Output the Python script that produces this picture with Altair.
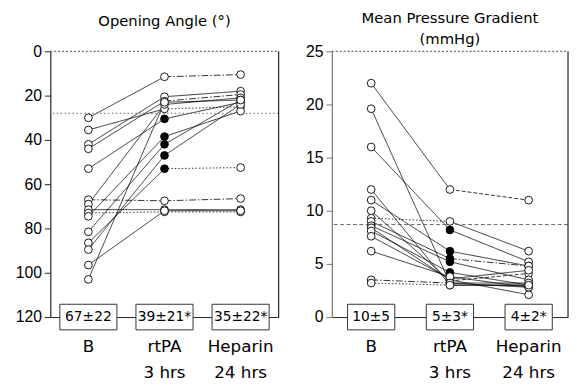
import altair as alt
import pandas as pd

# ---------------- data ----------------
stage_names = ["B", "rtPA\n3 hrs", "Heparin\n24 hrs"]

# Opening angle (degrees), one entry per patient
angle_b = [30, 35.5, 42, 44, 53, 67, 69, 71.5, 73, 74.5, 81.5, 86.5, 89.5, 96.5, 103]
angle_rtpa = [11.5, 26, 20.5, 22.5, 30.5, 67.5, 24, 71.5, 72.5, 38.5, 42, 53, 47, 72, 23]
angle_hep = [10.5, 25, 18, 19.5, 23, 66.5, 21, 71.5, 72.5, 27, 22, 52.5, 24, 72, 22]
angle_filled = [0, 0, 0, 0, 1, 0, 0, 0, 0, 1, 1, 1, 1, 0, 0]
angle_style1 = ["solid", "solid", "solid", "solid", "solid", "dashdot", "solid", "solid",
                "dotted", "solid", "solid", "solid", "solid", "solid", "solid"]
angle_style2 = ["dashdot", "dotted", "solid", "dashdot", "solid", "dashdot", "solid", "solid",
                "dotted", "solid", "solid", "dotted", "solid", "solid", "solid"]
angle_summary = ["67±22", "39±21*", "35±22*"]
angle_normal = 28
angle_ticks = [0, 20, 40, 60, 80, 100, 120]

# Mean pressure gradient (mmHg)
grad_b = [22, 19.6, 16, 12, 11, 10, 9.3, 9.0, 8.6, 8.4, 8.1, 7.6, 6.2, 3.5, 3.2]
grad_rtpa = [12, 3.2, 8.2, 3.0, 6.2, 3.4, 9.0, 5.5, 5.2, 3.5, 4.2, 3.6, 3.8, 3.2, 3.0]
grad_hep = [11, 2.8, 5.2, 3.0, 4.8, 4.1, 6.2, 4.8, 3.5, 2.1, 3.0, 4.4, 2.8, 3.2, 3.0]
grad_filled = [0, 0, 1, 0, 1, 0, 0, 1, 1, 0, 1, 0, 0, 0, 0]
grad_style1 = ["solid", "solid", "solid", "solid", "solid", "solid", "dotted", "solid",
               "solid", "solid", "solid", "solid", "solid", "dashdot", "dotted"]
grad_style2 = ["dashed", "solid", "solid", "solid", "solid", "dashed", "solid", "dashdot",
               "solid", "solid", "solid", "solid", "solid", "solid", "solid"]
grad_summary = ["10±5", "5±3*", "4±2*"]
grad_normal = 8.7
grad_ticks = [0, 5, 10, 15, 20, 25]

FONT = "DejaVu Sans"
TICK_FONT = "Liberation Sans"
PH = 270


def panel(b, r, h, filled, s1, s2, summary, normal, normal_dash, domain, ticks,
          reverse, width, titles, title_y, box_w, axis_color):
    line_rows, pt_rows = [], []
    for i in range(len(b)):
        line_rows += [
            dict(seg=f"{i}a", stage=0, val=b[i], style=s1[i]),
            dict(seg=f"{i}a", stage=1, val=r[i], style=s1[i]),
            dict(seg=f"{i}b", stage=1, val=r[i], style=s2[i]),
            dict(seg=f"{i}b", stage=2, val=h[i], style=s2[i]),
        ]
        pt_rows += [
            dict(stage=0, val=b[i], filled=0),
            dict(stage=1, val=r[i], filled=filled[i]),
            dict(stage=2, val=h[i], filled=0),
        ]
    lines_df = pd.DataFrame(line_rows)
    pts_df = pd.DataFrame(pt_rows)
    bottom = domain[1] if reverse else domain[0]
    box_df = pd.DataFrame(dict(stage=[0, 1, 2], val=[bottom] * 3, text=summary,
                               label=stage_names))

    xscale = alt.Scale(domain=[-0.5, 2.5])
    yscale = alt.Scale(domain=domain, reverse=reverse, nice=False, zero=False)
    x_axis = alt.Axis(title=None, labels=False, ticks=False, grid=False,
                      domainColor="#222", domainWidth=1)
    y_axis = alt.Axis(values=ticks, title=None, grid=False, tickSize=6,
                      labelFontSize=16, labelFont=TICK_FONT, labelColor="black",
                      labelPadding=3, domainColor=axis_color, tickColor=axis_color,
                      domainWidth=1.2)
    x_n = alt.X("stage:Q", scale=xscale, axis=x_axis)
    y_n = alt.Y("val:Q", scale=yscale, axis=y_axis)

    lines = alt.Chart(lines_df).mark_line(color="black", strokeWidth=0.8).encode(
        x=x_n, y=y_n, detail="seg:N",
        strokeDash=alt.StrokeDash("style:N", legend=None, scale=alt.Scale(
            domain=["solid", "dotted", "dashdot", "dashed"],
            range=[[1, 0], [1.5, 2], [7, 2, 1.5, 2], [4, 2]])))
    pts = alt.Chart(pts_df).mark_point(shape="circle", filled=True, size=62,
                                       stroke="black", strokeWidth=0.9, opacity=1).encode(
        x=x_n, y=y_n,
        fill=alt.Fill("filled:N", legend=None,
                      scale=alt.Scale(domain=[0, 1], range=["white", "black"])))
    normal_rule = alt.Chart(pd.DataFrame(dict(val=[normal]))).mark_rule(
        color="#555", strokeWidth=0.9, strokeDash=normal_dash).encode(y=y_n)
    top_rule = alt.Chart(pd.DataFrame(dict(a=[0]))).mark_rule(
        color="#444", strokeWidth=1, strokeDash=[2, 2]).encode(
        x=alt.value(0), x2=alt.value(width), y=alt.value(0))
    right_rule = alt.Chart(pd.DataFrame(dict(a=[0]))).mark_rule(
        color="#222", strokeWidth=1.2).encode(
        x=alt.value(width), y=alt.value(0), y2=alt.value(PH))
    boxes = alt.Chart(box_df).mark_rect(
        fill="white", stroke="#333", strokeWidth=1,
        xOffset=-box_w / 2, x2Offset=box_w / 2, yOffset=-13, y2Offset=13).encode(
        x=x_n, x2="stage:Q", y=y_n, y2="val:Q")
    box_text = alt.Chart(box_df).mark_text(font=FONT, fontSize=14, color="black").encode(
        x=x_n, y=y_n, text="text:N")
    cat_text = alt.Chart(box_df).mark_text(
        font=FONT, fontSize=17, color="black", baseline="top", dy=23,
        lineBreak="\n", lineHeight=26).encode(x=x_n, y=y_n, text="label:N")
    title_df = pd.DataFrame(dict(t=[titles], d=["Mean"]))
    title = alt.Chart(title_df).mark_text(
        font=FONT, fontSize=15, color="black", baseline="top", lineBreak="\n",
        lineHeight=22).encode(x=alt.value(width / 2), y=alt.value(title_y), text="t:N")
    dummy = alt.Chart(title_df).mark_text(
        font=FONT, fontSize=15, color="black", baseline="top", opacity=0).encode(
        x=alt.value(width / 2), y=alt.value(-41), text="d:N")

    return alt.layer(lines, normal_rule, top_rule, right_rule, pts, boxes, box_text,
                     cat_text, title, dummy).properties(width=width, height=PH)


left = panel(angle_b, angle_rtpa, angle_hep, angle_filled, angle_style1, angle_style2,
             angle_summary, angle_normal, [1.5, 2.5], [0, 120], angle_ticks, True, 232,
             "Opening Angle (°)", -38, 58, "#222")
right = panel(grad_b, grad_rtpa, grad_hep, grad_filled, grad_style1, grad_style2,
              grad_summary, grad_normal, [4, 2.5], [0, 25], grad_ticks, False, 240,
              "Mean Pressure Gradient\n(mmHg)", -41, 48, "#777")

chart = alt.hconcat(left, right, spacing=54, bounds="flush").properties(
    padding={"left": 7, "top": 0, "right": 0, "bottom": 0}
).configure_view(stroke=None)

chart.save("out.html", embed_options={"renderer": "svg", "actions": False})
